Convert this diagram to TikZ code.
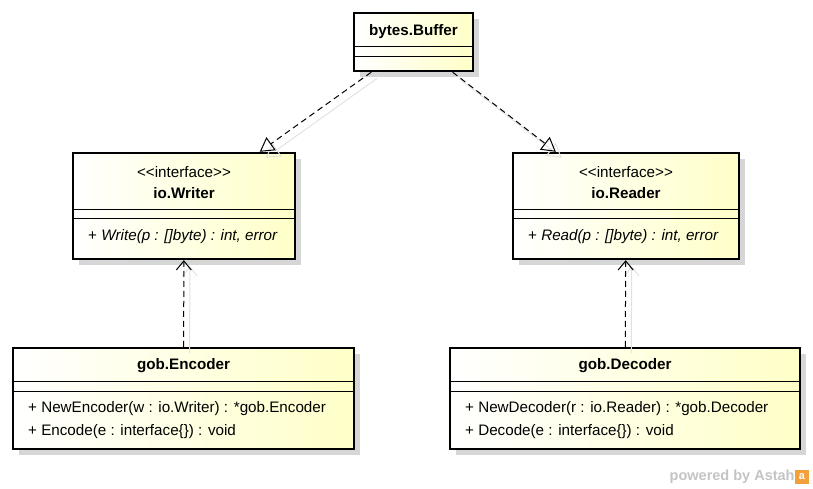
\documentclass[tikz,border=0pt]{standalone}
\usepackage{fontspec}
\setmainfont{Liberation Sans}
\usetikzlibrary{arrows.meta,shadows}
\definecolor{umlfill}{HTML}{FFFFC8}
\definecolor{umlshade}{HTML}{D6D6D6}
\definecolor{lineshade}{HTML}{E2E2E2}
\definecolor{astahgray}{HTML}{C4C4C4}
\definecolor{astahorange}{HTML}{F2A03A}
\tikzset{
  ubox/.style={draw=black,line width=2.4pt,left color=white,right color=umlfill,inner sep=0pt,
     drop shadow={shadow xshift=6pt,shadow yshift=-6pt,fill=umlshade,opacity=1}},
  uname/.style={font=\fontsize{15.2}{18}\selectfont\bfseries,inner sep=1pt},
  ustereo/.style={inner sep=1pt},
  umethod/.style={anchor=west,inner sep=1pt},
  usep/.style={line width=0.9pt,draw=black},
  urealize/.style={line width=1pt,dash pattern=on 6pt off 4pt,-{Triangle[open,length=14pt,width=16pt]}},
  udepend/.style={line width=1pt,dash pattern=on 6pt off 4pt,-{Straight Barb[length=9pt,width=15pt]}},
  ushadowr/.style={line width=1pt,draw=lineshade,-{Triangle[open,length=14pt,width=16pt]},
     transform canvas={shift={(6pt,-6pt)}}},
  ushadowd/.style={line width=1pt,draw=lineshade,-{Straight Barb[length=9pt,width=15pt]},
     transform canvas={shift={(6pt,-6pt)}}}
}
\begin{document}
\begin{tikzpicture}[x=1pt,y=-1pt,font=\fontsize{15.2}{18}\selectfont]
  \useasboundingbox (0,0) rectangle (813,489);
  % classes
  \node[ubox,minimum width=119,minimum height=58] (buf) at (413.5,42) {};
  \node[ubox,minimum width=222,minimum height=106] (wr) at (184,206) {};
  \node[ubox,minimum width=226,minimum height=106] (rd) at (626,206) {};
  \node[ubox,minimum width=341,minimum height=101] (enc) at (183.5,398.5) {};
  \node[ubox,minimum width=350,minimum height=101] (dec) at (625,398.5) {};
  % line shadows
  \draw[ushadowr] (buf) -- (wr);
  \draw[ushadowr] (buf) -- (rd);
  \draw[ushadowd] (enc) -- (wr);
  \draw[ushadowd] (dec) -- (rd);
  % compartments
  \foreach \n/\ya/\yb in {buf/46/56,wr/209/218,rd/209/218,enc/381/391,dec/381/391}{
    \draw[usep] (\n.west |- 0,\ya) -- (\n.east |- 0,\ya);
    \draw[usep] (\n.west |- 0,\yb) -- (\n.east |- 0,\yb);
  }
  % texts
  \node[uname] (bufname) at (413.5,32) {bytes.Buffer};
  \node[ustereo] (wrstereo) at (184,172) {<{}<interface>{}>};
  \node[uname] (wrname) at (184,193) {io.Writer};
  \node[umethod] (wrm1) at (87,237) {+ \textit{Write(p : []byte) : int, error}};
  \node[ustereo] (rdstereo) at (626,172) {<{}<interface>{}>};
  \node[uname] (rdname) at (626,193) {io.Reader};
  \node[umethod] (rdm1) at (527,237) {+ \textit{Read(p : []byte) : int, error}};
  \node[uname] (encname) at (183.5,366) {gob.Encoder};
  \node[umethod] (encm1) at (27,409) {+ NewEncoder(w : io.Writer) : *gob.Encoder};
  \node[umethod] (encm2) at (27,432) {+ Encode(e : interface\{\}) : void};
  \node[uname] (decname) at (625,366) {gob.Decoder};
  \node[umethod] (decm1) at (464,409) {+ NewDecoder(r : io.Reader) : *gob.Decoder};
  \node[umethod] (decm2) at (464,432) {+ Decode(e : interface\{\}) : void};
  % relations
  \draw[urealize] (buf) -- (wr);
  \draw[urealize] (buf) -- (rd);
  \draw[udepend] (enc) -- (wr);
  \draw[udepend] (dec) -- (rd);
  % footer
  \node[fill=astahorange,minimum size=14pt,inner sep=0pt] (logo) at (802,477) {};
  \node[text=white,font=\bfseries\fontsize{11}{11}\selectfont,inner sep=0pt] (logoa) at (logo) {a};
  \node[anchor=east,text=astahgray,font=\bfseries\fontsize{14.5}{15}\selectfont,inner sep=0pt] (powered) at (logo.west) {powered by Astah};
\end{tikzpicture}
\end{document}
